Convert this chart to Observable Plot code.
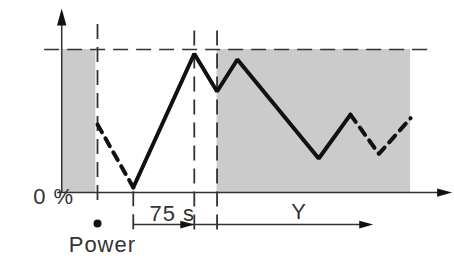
<!DOCTYPE html>
<html><head><meta charset="utf-8">
<script src="https://cdn.jsdelivr.net/npm/d3@7"></script>
<script src="https://cdn.jsdelivr.net/npm/@observablehq/plot@0.6"></script>
<style>body{margin:0;background:#fff}</style>
</head><body><div id="chart"></div>
<script>
// time in seconds (0 = power on), output in %
const solidT = [44, 119, 147, 172, 272, 311];
const solidPct = [3.5, 97, 70.6, 93, 23.8, 54.5];
const dashLeftT = [0, 44];
const dashLeftPct = [47.6, 3.5];
const dashRightT = [311, 346, 385];
const dashRightPct = [54.5, 27, 52];
const bandStart = [-44, 147];
const bandEnd = [-2, 385];
const guideT = [0, 44, 119, 147];
const guideTop = [117.5, 0.5, 113, 113];
const guideBottom = [-7.7, -30, -28.7, -28.7];
const powerT = 0, powerPct = -21.7;
const timelinePct = -22.4, timelineStart = 44, timelineEnd = 339;
const labels = ["0 %", "Power", "75 s", "Y"];
const labelT = [-54, 6, 92, 248];
const labelPct = [-3, -36.4, -14.7, -13.3];
const labelAnchor = ["end", "middle", "middle", "middle"];

const k = 61 / 75;
const arrowHead = {draw(ctx, size){ const r = Math.sqrt(size/Math.PI); ctx.moveTo(0,0); ctx.lineTo(-2*r,-0.55*r); ctx.lineTo(-2*r,0.55*r); ctx.closePath(); }};

const solid = solidT.map((t,i)=>({t, p: solidPct[i]}));
const dl = dashLeftT.map((t,i)=>({t, p: dashLeftPct[i]}));
const dr = dashRightT.map((t,i)=>({t, p: dashRightPct[i]}));
const bands = bandStart.map((s,i)=>({s, e: bandEnd[i]}));
const guides = guideT.map((t,i)=>({t, a: guideTop[i], b: guideBottom[i]}));
const lab = labels.map((s,i)=>({s, t: labelT[i], p: labelPct[i], a: labelAnchor[i]}));

const chart = Plot.plot({
  width: 454, height: 256, margin: 0,
  x: {domain: [-97/k, 357/k], axis: null},
  y: {domain: [-64/1.43, 192/1.43], axis: null},
  marks: [
    Plot.rectY(bands, {x1: "s", x2: "e", y1: 0, y2: 100, fill: "#cbcbcb"}),
    Plot.ruleY([100], {x1: -65, x2: 409, stroke: "#333", strokeWidth: 1.6, strokeDasharray: "15,8"}),
    Plot.ruleX(guides, {x: "t", y1: "a", y2: "b", stroke: "#333", strokeWidth: 1.8, strokeDasharray: "15,8"}),
    Plot.ruleY([0], {x1: -49, x2: 425, stroke: "#333", strokeWidth: 1.5}),
    Plot.ruleX([-44], {y1: 0, y2: 120, stroke: "#333", strokeWidth: 1.5}),
    Plot.ruleY([timelinePct], {x1: timelineStart, x2: timelineEnd - 8, stroke: "#333", strokeWidth: 1.5}),
    Plot.dot([{t: 436, p: 0}], {x: "t", y: "p", symbol: arrowHead, r: 7.5, fill: "#111", stroke: "none"}),
    Plot.dot([{t: -44, p: 128.7}], {x: "t", y: "p", symbol: arrowHead, r: 8.5, rotate: -90, fill: "#111", stroke: "none"}),
    Plot.dot([{t: 119, p: timelinePct}, {t: timelineEnd, p: timelinePct}], {x: "t", y: "p", symbol: arrowHead, r: 7, fill: "#111", stroke: "none"}),
    Plot.line(dl, {x: "t", y: "p", stroke: "#111", strokeWidth: 4, strokeDasharray: "9,7"}),
    Plot.line(dr, {x: "t", y: "p", stroke: "#111", strokeWidth: 4, strokeDasharray: "9,7"}),
    Plot.line(solid, {x: "t", y: "p", stroke: "#111", strokeWidth: 4, strokeLinejoin: "miter"}),
    Plot.dot([{t: powerT, p: powerPct}], {x: "t", y: "p", r: 4, fill: "#111"}),
    Plot.text(lab, {x: "t", y: "p", text: "s", textAnchor: "a", fontSize: 22, fill: "#333", fontFamily: "Liberation Sans, Arial, sans-serif"})
  ]
});
d3.select(chart).selectAll("text").style("letter-spacing", "1px");
document.getElementById("chart").appendChild(chart);
</script></body></html>
